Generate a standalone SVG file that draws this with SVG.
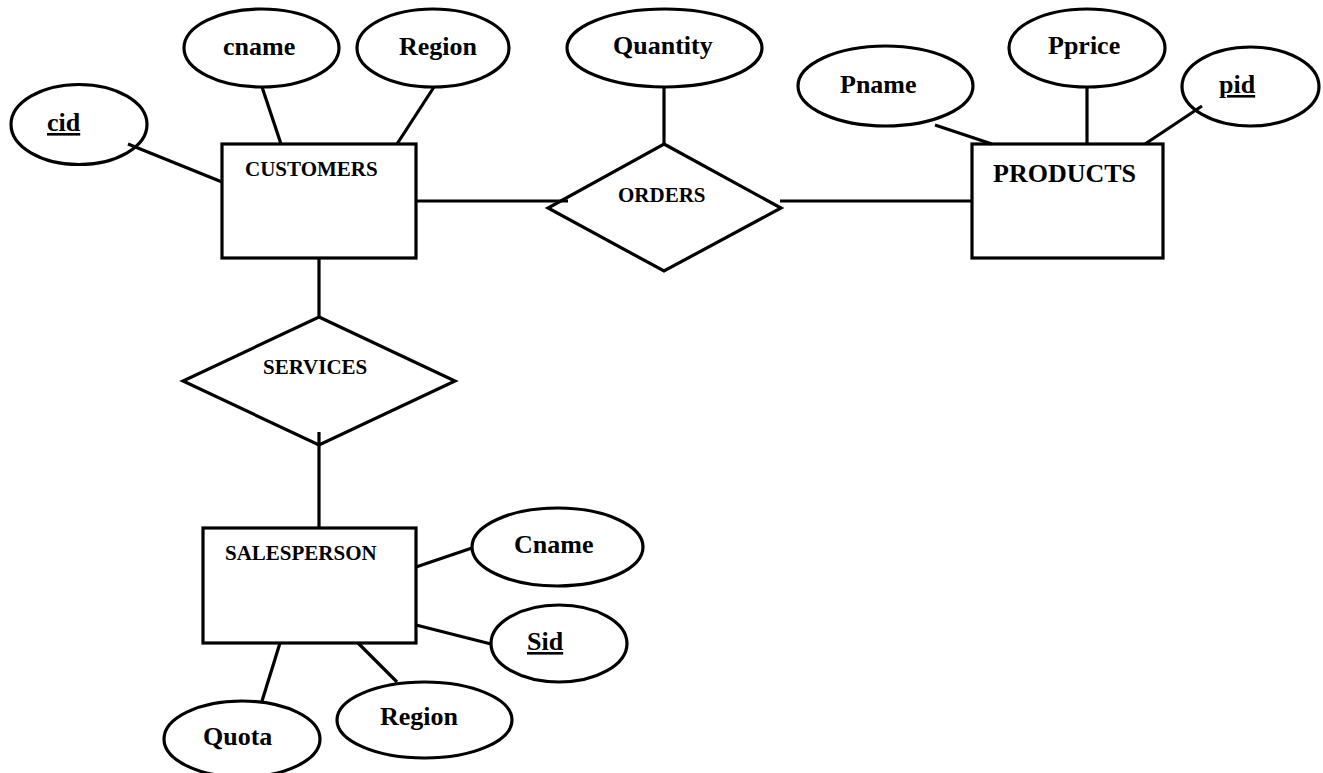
<svg xmlns="http://www.w3.org/2000/svg" width="1323" height="773" viewBox="0 0 1323 773">
<style>
.s{fill:#fff;stroke:#000;stroke-width:3.2}
.c line{stroke:#000;stroke-width:3.2}
text{font-family:"Liberation Serif","Times New Roman",serif;font-weight:bold;fill:#000}
.a{font-size:26px}
.e{font-size:21px}
.u{text-decoration:underline}
</style>
<rect width="1323" height="773" fill="#fff"/>
<g id="customers"><rect class="s" x="222" y="144" width="194" height="114"/><text class="e" x="245" y="176">CUSTOMERS</text></g>
<g id="products"><rect class="s" x="972" y="144" width="191" height="114"/><text class="a" x="993" y="182">PRODUCTS</text></g>
<g id="salesperson"><rect class="s" x="203" y="528" width="213" height="115"/><text class="e" x="225" y="560">SALESPERSON</text></g>
<g id="orders"><polygon class="s" points="664,144 781,208 664,271 548,208"/><text class="e" x="618" y="202">ORDERS</text></g>
<g id="services"><polygon class="s" points="319,317 455,381 319,445 183,381"/><text class="e" x="263" y="374">SERVICES</text></g>
<g id="cid"><ellipse class="s" cx="79" cy="124.5" rx="68" ry="40"/><text class="a u" x="47" y="131">cid</text></g>
<g id="cname"><ellipse class="s" cx="261.5" cy="48" rx="77.5" ry="39"/><text class="a" x="223" y="55">cname</text></g>
<g id="region1"><ellipse class="s" cx="433" cy="48" rx="76" ry="39"/><text class="a" x="399" y="55">Region</text></g>
<g id="quantity"><ellipse class="s" cx="664.5" cy="48" rx="97.5" ry="39"/><text class="a" x="613" y="54">Quantity</text></g>
<g id="pname"><ellipse class="s" cx="885.5" cy="86" rx="87.5" ry="40"/><text class="a" x="840" y="93">Pname</text></g>
<g id="pprice"><ellipse class="s" cx="1087" cy="48" rx="78" ry="39"/><text class="a" x="1048" y="54">Pprice</text></g>
<g id="pid"><ellipse class="s" cx="1250.5" cy="86.5" rx="68.5" ry="39.5"/><text class="a u" x="1219" y="93">pid</text></g>
<g id="cname2"><ellipse class="s" cx="557.5" cy="547" rx="85.5" ry="39"/><text class="a" x="514" y="553">Cname</text></g>
<g id="sid"><ellipse class="s" cx="559" cy="643.5" rx="68" ry="38.5"/><text class="a u" x="527" y="650">Sid</text></g>
<g id="region2"><ellipse class="s" cx="424.5" cy="720" rx="87.5" ry="38"/><text class="a" x="380" y="725">Region</text></g>
<g id="quota"><ellipse class="s" cx="242" cy="739" rx="78" ry="38"/><text class="a" x="203" y="745">Quota</text></g>
<g class="c" id="connectors">
<line x1="128" y1="144" x2="222" y2="182"/>
<line x1="262" y1="87" x2="281" y2="144"/>
<line x1="434" y1="87" x2="397" y2="144"/>
<line x1="416" y1="201" x2="568" y2="201"/>
<line x1="780" y1="201" x2="972" y2="201"/>
<line x1="664" y1="87" x2="664" y2="144"/>
<line x1="935" y1="125" x2="992" y2="144"/>
<line x1="1087" y1="87" x2="1087" y2="144"/>
<line x1="1202" y1="106" x2="1145" y2="144"/>
<line x1="319" y1="258" x2="319" y2="317"/>
<line x1="319" y1="432" x2="319" y2="528"/>
<line x1="416" y1="567" x2="472" y2="548"/>
<line x1="416" y1="625" x2="491" y2="644"/>
<line x1="280" y1="643" x2="262" y2="701"/>
<line x1="358" y1="643" x2="397" y2="682"/>
</g>
</svg>
